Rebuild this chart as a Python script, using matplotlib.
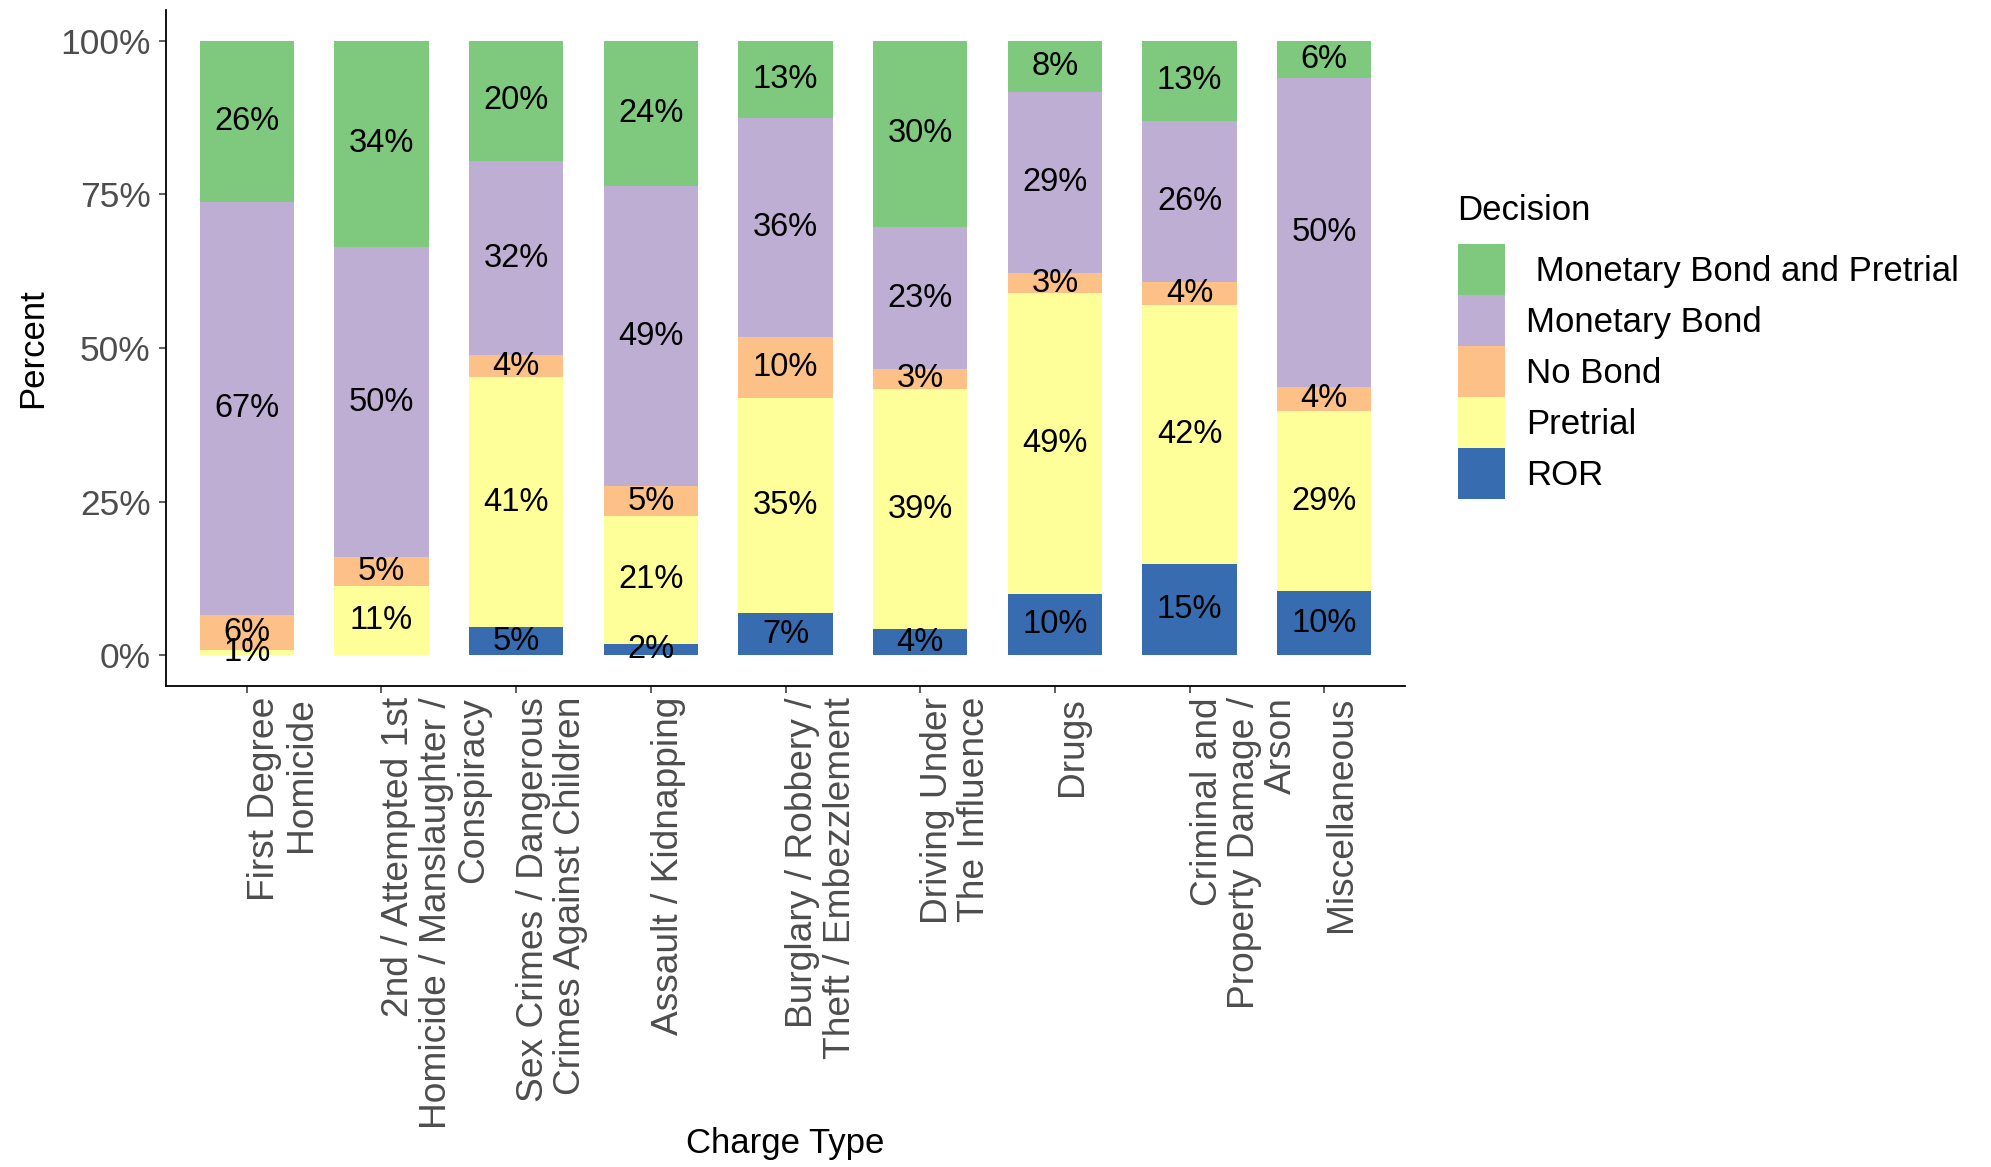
import matplotlib
matplotlib.use("Agg")
import matplotlib.pyplot as plt
from matplotlib.patches import Patch
import numpy as np

plt.rcParams['font.family'] = ['Liberation Sans', 'DejaVu Sans']

categories = [
    "First Degree\nHomicide",
    "2nd / Attempted 1st\nHomicide / Manslaughter /\nConspiracy",
    "Sex Crimes / Dangerous\nCrimes Against Children",
    "Assault / Kidnapping",
    "Burglary / Robbery /\nTheft / Embezzlement",
    "Driving Under\nThe Influence",
    "Drugs",
    "Criminal and\nProperty Damage /\nArson",
    "Miscellaneous",
]

# percent values, stacked bottom -> top
ror = [0, 0, 4.6, 1.8, 6.9, 4.2, 10.0, 14.9, 10.4]
pretrial = [0.9, 11.2, 40.6, 20.9, 34.9, 39.15, 48.9, 42.1, 29.4]
no_bond = [5.7, 4.8, 3.6, 4.8, 10.0, 3.25, 3.3, 3.8, 3.9]
monetary_bond = [67.2, 50.4, 31.6, 48.85, 35.6, 23.05, 29.4, 26.2, 50.3]
monetary_bond_pretrial = [26.2, 33.6, 19.6, 23.65, 12.6, 30.35, 8.4, 13.0, 6.0]

series_names = ["ROR", "Pretrial", "No Bond", "Monetary Bond", " Monetary Bond and Pretrial"]
series_values = [ror, pretrial, no_bond, monetary_bond, monetary_bond_pretrial]
series_colors = ["#386CB0", "#FFFF99", "#FDC086", "#BEAED4", "#7FC97F"]

yticks = [0, 25, 50, 75, 100]
ytick_labels = ["0%", "25%", "50%", "75%", "100%"]

W, H = 1991, 1167
fig = plt.figure(figsize=(W / 100, H / 100), dpi=100)
ax_l, ax_r, ax_t, ax_b = 166, 1405, 10, 686
ax = fig.add_axes([ax_l / W, 1 - ax_b / H, (ax_r - ax_l) / W, (ax_b - ax_t) / H])

x = np.arange(len(categories))
bottom = np.zeros(len(categories))
for name, vals, col in zip(series_names, series_values, series_colors):
    vals = np.array(vals, dtype=float)
    ax.bar(x, vals, width=0.7, bottom=bottom, color=col, edgecolor='none', label=name)
    for xi, b, v in zip(x, bottom, vals):
        if v > 0:
            ax.text(xi, b + v / 2, "{:.0f}%".format(v), ha='center', va='center',
                    fontsize=23.5, color='black')
    bottom += vals

ax.set_xlim(-0.6, len(categories) - 0.4)
ax.set_ylim(-5, 105)
ax.set_yticks(yticks)
ax.set_yticklabels(ytick_labels)
ax.set_xticks(x)
ax.set_xticklabels(categories, rotation=90, ha='left', va='top',
                   multialignment='right', linespacing=1.08)

for s in ['top', 'right']:
    ax.spines[s].set_visible(False)
for s in ['left', 'bottom']:
    ax.spines[s].set_linewidth(1.3)
    ax.spines[s].set_color('black')

ax.tick_params(axis='y', labelsize=25.5, labelcolor='#4D4D4D', length=5, width=1.1,
               color='#333333', pad=6)
ax.tick_params(axis='x', labelsize=26.7, labelcolor='#4D4D4D', length=5, width=1.1,
               color='#333333', pad=3)

ax.set_ylabel("Percent", fontsize=25, color='black')
ax.yaxis.set_label_coords(-0.094, 0.5)
ax.set_xlabel("Charge Type", fontsize=25, color='black')
ax.xaxis.set_label_coords(0.5, -0.652)

# legend (top to bottom: reverse stacking order)
handles = [Patch(facecolor=c, edgecolor='none') for c in series_colors[::-1]]
labels = series_names[::-1]
fig.text(1457 / W, 1 - 211 / H, "Decision", fontsize=25, ha='left', va='center')
fig.legend(handles, labels, loc='upper left', bbox_to_anchor=(1458 / W, 1 - 244 / H),
           frameon=False, fontsize=25, handlelength=1.35, handleheight=1.885,
           labelspacing=0, handletextpad=0.6, borderpad=0, borderaxespad=0)

fig.savefig("out.png", dpi=100)
